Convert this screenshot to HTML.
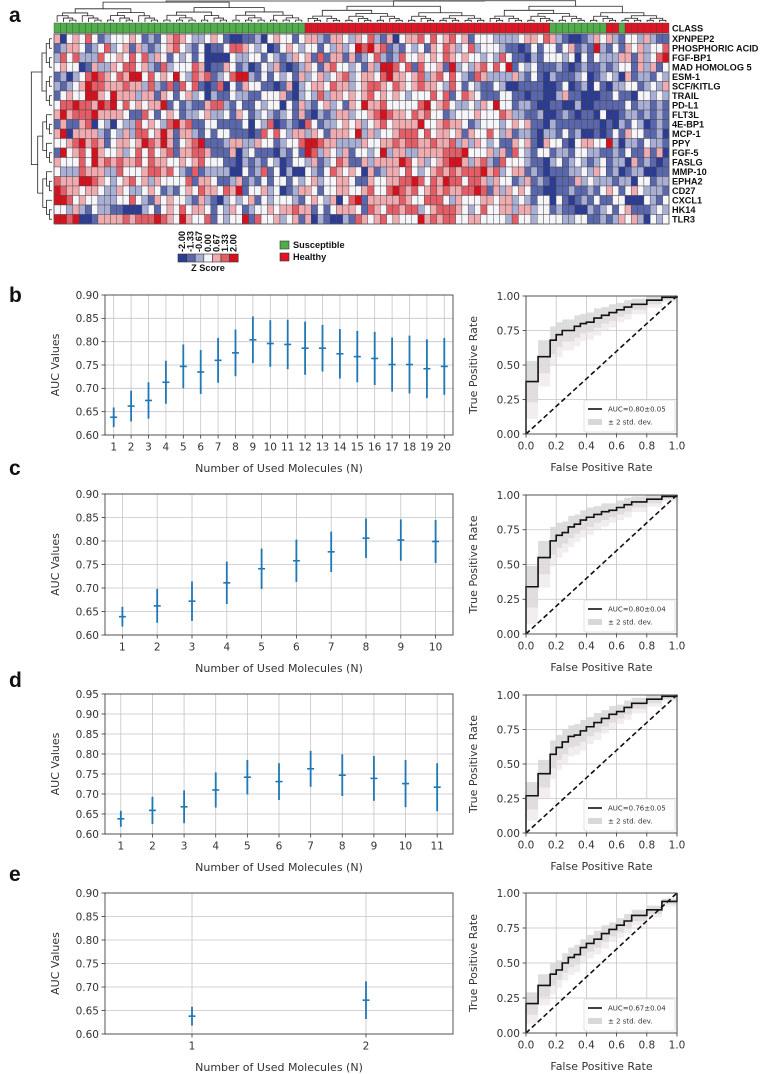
<!DOCTYPE html>
<html><head><meta charset="utf-8">
<style>
html,body{margin:0;padding:0;background:#fff;}
svg{display:block;font-family:"DejaVu Sans","Liberation Sans",sans-serif;}
.hl{font-family:"Liberation Sans",Arial,sans-serif;font-weight:bold;font-size:9.2px;fill:#111;}
.tk{font-size:10.5px;fill:#333;}
.lab{font-size:11px;fill:#333;}
.pl{font-family:"Liberation Sans",Arial,sans-serif;font-weight:bold;font-size:21px;fill:#111;}
</style></head>
<body>
<svg id="fig" width="761" height="1074" viewBox="0 0 761 1074">
<text class="pl" x="9" y="22">a</text>
<text class="pl" x="9" y="302">b</text>
<text class="pl" x="9" y="475">c</text>
<text class="pl" x="9" y="687">d</text>
<text class="pl" x="9" y="881">e</text>
<g id="heat"></g>
<g id="charts"></g>
</svg>
<script>
// ---------- heatmap data ----------
const genes = ["XPNPEP2","PHOSPHORIC ACID","FGF-BP1","MAD HOMOLOG 5","ESM-1","SCF/KITLG","TRAIL","PD-L1","FLT3L","4E-BP1","MCP-1","PPY","FGF-5","FASLG","MMP-10","EPHA2","CD27","CXCL1","HK14","TLR3"];
const classGroups = [["S",40],["H",39],["S",9],["H",2],["S",1],["H",7]];
const zLevels = ["-2.00","-1.33","-0.67","0.00","0.67","1.33","2.00"];
const heatRows = [
"4034353123 3343121345 4322343100 1120343313 4421443243 5214034453 5345341333 2222344354 2100124342 13324211",
"1244312352 3414212345 3213011355 4323013432 3313242365 6451213231 4354235233 3211013133 1341216213 14342335",
"2535222533 4353524313 2313000032 2331321243 4151441412 3521253343 4354343323 2531102133 3230313222 44142356",
"3433014224 3553421523 3354011431 2013241012 4314533231 4266535153 3416232453 5361323111 2101211212 33142413",
"1202356543 5466353436 3254512356 6213132314 2342345234 4356443452 4535321542 2224213102 1112301232 04122132",
"2123465544 4544252151 5351015031 4331101402 3443544234 5543543454 4325313211 3200111100 1301203102 23312324",
"1343366436 4442441431 3423021132 2113334102 3252443434 5343432333 5351354311 1331101100 2411000113 11033232",
"3556554656 3534344613 1211455213 1132330314 2134231436 4453333356 3453223243 6331221001 1002001111 13122121",
"4645556444 4311531343 1223422314 3123212314 1021244233 4565443545 3312333433 3542211200 1210110300 12212121",
"1411450320 3225343256 4511331111 3032501210 5312234342 3453444463 3454431233 3234341102 1111111010 21320121",
"4604444213 2425534641 4421313311 1015353244 2431444362 4233455535 3443414335 3241221022 1312001013 14331120",
"3345645413 4434654641 3456111244 2243312335 6654422224 3344545544 5445242432 3114341043 3103443362 02213221",
"1634536433 4235353451 4455411140 2311102131 6524324133 2362442244 4455563334 2415321331 2213322112 13114140",
"4333536454 5445354433 4345333110 2121320133 2412354114 2444465342 3456642452 1533321102 3123212312 20412101",
"3222544422 5333455453 2151222200 3125130200 3213543430 4124435323 4545455564 5234412101 1122324312 01220011",
"5444665432 3453424333 3514431124 1213133132 3423344311 4334455653 5465535542 4331241210 1114232221 22033122",
"6544344322 4322343121 3435443546 1334230124 4313344334 5335654534 5454455651 4243431100 1121121343 13432221",
"6653433222 3353214343 3214210232 3413233321 3432403561 4444454335 5532433344 3442321330 3101213113 30003213",
"3324213221 1000231343 5344313243 1233434454 4131344431 5435545523 4555432353 3442442331 2110021231 34111232",
"6656001444 4545556543 6433513233 6153342341 4021002154 3453433364 5455334433 3325332333 3223311212 43420323"
];
// ---------- chart data ----------
const bMeans=[0.638,0.662,0.674,0.713,0.747,0.735,0.760,0.776,0.804,0.796,0.794,0.786,0.786,0.774,0.768,0.764,0.751,0.751,0.742,0.747];
const bErr=[0.021,0.033,0.039,0.046,0.047,0.047,0.048,0.050,0.050,0.050,0.053,0.057,0.050,0.053,0.055,0.057,0.058,0.062,0.063,0.061];
const cMeans=[0.639,0.662,0.672,0.711,0.741,0.758,0.777,0.806,0.802,0.799];
const cErr=[0.021,0.036,0.042,0.045,0.043,0.045,0.043,0.042,0.044,0.046];
const dMeans=[0.638,0.659,0.668,0.710,0.742,0.731,0.763,0.747,0.739,0.726,0.717];
const dErr=[0.020,0.034,0.041,0.044,0.043,0.046,0.045,0.052,0.056,0.059,0.060];
const eMeans=[0.638,0.672];
const eErr=[0.020,0.040];
const rocFpr=[0,0.08,0.16,0.20,0.24,0.28,0.32,0.36,0.40,0.45,0.50,0.55,0.60,0.65,0.70,0.80,0.90,1.0];
const bTpr=[0.38,0.56,0.68,0.72,0.75,0.75,0.78,0.80,0.81,0.84,0.86,0.88,0.90,0.92,0.94,0.97,0.99,1.0];
const cTpr=[0.34,0.55,0.67,0.71,0.73,0.77,0.79,0.82,0.84,0.86,0.88,0.89,0.91,0.93,0.95,0.97,0.99,1.0];
const dTpr=[0.27,0.43,0.57,0.62,0.66,0.70,0.71,0.74,0.77,0.80,0.83,0.86,0.88,0.91,0.94,0.97,0.99,1.0];
const eTpr=[0.21,0.34,0.42,0.45,0.50,0.54,0.56,0.61,0.64,0.67,0.71,0.74,0.77,0.80,0.84,0.88,0.94,1.0];
const bBand=[0.15,0.12,0.10,0.09,0.08,0.08,0.08,0.07,0.07,0.07,0.06,0.06,0.05,0.05,0.04,0.03,0.02,0];
const cBand=[0.15,0.12,0.10,0.09,0.08,0.08,0.07,0.07,0.07,0.06,0.06,0.05,0.05,0.05,0.04,0.03,0.02,0];
const dBand=[0.10,0.10,0.10,0.09,0.09,0.08,0.08,0.08,0.07,0.07,0.06,0.06,0.05,0.05,0.04,0.03,0.02,0];
const eBand=[0.08,0.08,0.08,0.07,0.07,0.07,0.07,0.06,0.06,0.06,0.06,0.05,0.05,0.05,0.04,0.03,0.02,0];
const aucLabels=["AUC=0.80±0.05","AUC=0.80±0.04","AUC=0.76±0.05","AUC=0.67±0.04"];

const NS="http://www.w3.org/2000/svg";
function mk(parent,tag,attrs,text){const e=document.createElementNS(NS,tag);for(const k in attrs)e.setAttribute(k,attrs[k]);if(text!==undefined)e.textContent=text;parent.appendChild(e);return e;}

// ---------- heatmap ----------
const heat=document.getElementById('heat');
const palette=["#2c3c94","#5a67ad","#a9aed5","#f6f6fa","#f0abb1","#e45c66","#d5111e"];
const rows=heatRows.map(r=>r.replace(/ /g,''));
const ncol=Math.max(...rows.map(r=>r.length));
const HX0=54,HX1=669,HY0=34,HY1=224,CY0=23,CY1=33;
const cw=(HX1-HX0)/ncol, rh=(HY1-HY0)/genes.length;
const classes=[];classGroups.forEach(g=>{for(let i=0;i<g[1];i++)classes.push(g[0]);});
classes.forEach((c,i)=>{
  const r=mk(heat,'rect',{x:HX0+i*cw,y:CY0,width:cw,height:CY1-CY0,fill:c==='S'?'#4fae49':'#df1525',stroke:'#444','stroke-width':0.4});
  
  
});
rows.forEach((row,ri)=>{
  for(let ci=0;ci<ncol;ci++){
    const v=ci<row.length?+row[ci]:3;
    const r=mk(heat,'rect',{x:HX0+ci*cw,y:HY0+ri*rh,width:cw,height:rh,fill:palette[v],stroke:'#444','stroke-width':0.4});
    
    
  }
  const t=mk(heat,'text',{class:'hl',x:672,y:HY0+ri*rh+rh/2+3.2},genes[ri]);
  
  
});
const ct=mk(heat,'text',{class:'hl',x:672,y:31.5},'CLASS');


mk(heat,'rect',{x:HX0,y:HY0,width:HX1-HX0,height:HY1-HY0,fill:'none',stroke:'#555','stroke-width':0.8});
// dendrograms (structural drawing)
const dend=mk(heat,'g',{stroke:'#222','stroke-width':0.8,fill:'none'});


let ncolT=40;
function tree(a,b,depth,maxH,base,horiz,pos){
  if(b-a===1)return [pos(a),0];
  const m=Math.floor((a+b)/2+((depth%3)-1)*0.3*(b-a)/4);
  const mid=Math.min(Math.max(m,a+1),b-1);
  const L=tree(a,mid,depth+1,maxH,base,horiz,pos),R=tree(mid,b,depth+1,maxH,base,horiz,pos);
  const h=Math.max(L[1],R[1])+maxH*Math.pow(b-a,0.55)/Math.pow(ncolT,0.55)*0.45+1;
  if(horiz){mk(dend,'path',{d:`M${L[0]} ${base-L[1]}V${base-h}H${R[0]}V${base-R[1]}`});}
  else{mk(dend,'path',{d:`M${base-L[1]} ${L[0]}H${base-h}V${R[0]}H${base-R[1]}`});}
  return [(L[0]+R[0])/2,h];
}
const gl=tree(0,40,0,10,22,true,i=>HX0+(i+0.5)*cw);
ncolT=58;
const gr=tree(40,ncol,1,10,22,true,i=>HX0+(i+0.5)*cw);
mk(dend,'path',{d:`M${gl[0]} ${22-gl[1]}V1H${gr[0]}V${22-gr[1]}`});
ncolT=20;
tree(0,genes.length,0,12,52,false,i=>HY0+(i+0.5)*rh);
// color scale
zLevels.forEach((z,i)=>{
  const r=mk(heat,'rect',{x:178+i*8.6,y:254,width:8.6,height:8,fill:palette[i],stroke:'#333','stroke-width':0.6});
  
  
  const t=mk(heat,'text',{class:'hl','font-size':'8',x:0,y:0,transform:`translate(${178+i*8.6+7},252) rotate(-90)`},z);
  
  
});
const zt=mk(heat,'text',{class:'hl','font-size':'8',x:208,y:271,'text-anchor':'middle'},'Z Score');


[["Susceptible","#4fae49",241],["Healthy","#df1525",253]].forEach(l=>{
  const r=mk(heat,'rect',{x:280,y:l[2],width:9,height:8,fill:l[1],stroke:'#333','stroke-width':0.6});
  
  
  const t=mk(heat,'text',{class:'hl','font-size':'8',x:293,y:l[2]+7},l[0]);
  
  
});

// ---------- charts ----------
const charts=document.getElementById('charts');
function aucPanel(name,means,errs,top,bot,ymax,yticks){
  const g=mk(charts,'g',{});
  
  
  const X0=105,X1=453,n=means.length;
  const sx=v=>X0+(v-0.5)/n*(X1-X0);
  const sy=v=>bot-(v-0.60)/(ymax-0.60)*(bot-top);
  yticks.forEach(t=>{
    mk(g,'line',{x1:X0,x2:X1,y1:sy(t),y2:sy(t),stroke:'#c4c4cc','stroke-width':0.8});
    mk(g,'line',{x1:X0-3.5,x2:X0,y1:sy(t),y2:sy(t),stroke:'#333','stroke-width':0.8});
    const tl=mk(g,'text',{class:'tk',x:X0-6,y:sy(t)+3.8,'text-anchor':'end'},t.toFixed(2));
    
    
  });
  for(let i=1;i<=n;i++){
    mk(g,'line',{x1:sx(i),x2:sx(i),y1:top,y2:bot,stroke:'#c4c4c4','stroke-width':0.8});
    mk(g,'line',{x1:sx(i),x2:sx(i),y1:bot,y2:bot+3.5,stroke:'#333','stroke-width':0.8});
    const tl=mk(g,'text',{class:'tk',x:sx(i),y:bot+15.5,'text-anchor':'middle'},String(i));
    
    
  }
  means.forEach((m,i)=>{
    const x=sx(i+1);
    const e=mk(g,'line',{x1:x,x2:x,y1:sy(m-errs[i]),y2:sy(m+errs[i]),stroke:'#1f77b4','stroke-width':1.8});
    
    
    const p=mk(g,'line',{x1:x-3.5,x2:x+3.5,y1:sy(m),y2:sy(m),stroke:'#1f77b4','stroke-width':1.6});
    
    
  });
  mk(g,'rect',{x:X0,y:top,width:X1-X0,height:bot-top,fill:'none',stroke:'#444','stroke-width':0.9});
  const xl=mk(g,'text',{class:'lab',x:(X0+X1)/2,y:bot+37,'text-anchor':'middle'},'Number of Used Molecules (N)');
  
  
  const yl=mk(g,'text',{class:'lab',x:0,y:0,'text-anchor':'middle',transform:`translate(59,${(top+bot)/2}) rotate(-90)`},'AUC Values');
  
  
}
function rocPanel(name,tpr,band,top,bot,aucText){
  const g=mk(charts,'g',{});
  
  
  const X0=526,X1=677;
  const sx=v=>X0+v*(X1-X0), sy=v=>bot-v*(bot-top);
  [0,0.25,0.5,0.75,1].forEach(t=>{
    mk(g,'line',{x1:X0,x2:X1,y1:sy(t),y2:sy(t),stroke:'#c4c4c4','stroke-width':0.8});
    mk(g,'line',{x1:X0-3.5,x2:X0,y1:sy(t),y2:sy(t),stroke:'#333','stroke-width':0.8});
    const tl=mk(g,'text',{class:'tk',x:X0-6,y:sy(t)+3.8,'text-anchor':'end'},t.toFixed(2));
    
    
  });
  [0,0.2,0.4,0.6,0.8,1].forEach(t=>{
    mk(g,'line',{x1:sx(t),x2:sx(t),y1:top,y2:bot,stroke:'#c4c4c4','stroke-width':0.8});
    mk(g,'line',{x1:sx(t),x2:sx(t),y1:bot,y2:bot+3.5,stroke:'#333','stroke-width':0.8});
    const tl=mk(g,'text',{class:'tk',x:sx(t),y:bot+15.5,'text-anchor':'middle'},t.toFixed(1));
    
    
  });
  function stepPts(arr){let p=[[0,0]];arr.forEach((v,i)=>{p.push([rocFpr[i],v]);if(i<arr.length-1)p.push([rocFpr[i+1],v]);});return p;}
  const hi=stepPts(tpr.map((v,i)=>Math.min(1,v+band[i])));
  const lo=stepPts(tpr.map((v,i)=>Math.max(0,v-band[i])));
  const bd='M'+hi.map(p=>sx(p[0])+' '+sy(p[1])).join('L')+'L'+lo.reverse().map(p=>sx(p[0])+' '+sy(p[1])).join('L')+'Z';
  const b=mk(g,'path',{d:bd,fill:'#d4d4d4','fill-opacity':0.8,stroke:'none'});
  
  
  const lo2=stepPts(tpr.map((v,i)=>Math.max(0,v-band[i]*1.8)));
  const tint='M'+stepPts(tpr).map(p=>sx(p[0])+' '+sy(p[1])).join('L')+'L'+lo2.reverse().map(p=>sx(p[0])+' '+sy(p[1])).join('L')+'Z';
  const tt=mk(g,'path',{d:tint,fill:'#e6dde0','fill-opacity':0.5,stroke:'none'});
  
  
  const dl=mk(g,'line',{x1:sx(0),y1:sy(0),x2:sx(1),y2:sy(1),stroke:'#111','stroke-width':1.6,'stroke-dasharray':'5,3'});
  
  
  const ml=mk(g,'path',{d:'M'+stepPts(tpr).map(p=>sx(p[0])+' '+sy(p[1])).join('L'),fill:'none',stroke:'#111','stroke-width':1.6});
  
  
  mk(g,'rect',{x:X0,y:top,width:X1-X0,height:bot-top,fill:'none',stroke:'#444','stroke-width':0.9});
  const lg=mk(g,'g',{});
  
  
  mk(lg,'rect',{x:584,y:bot-34,width:91,height:32,fill:'#fff','fill-opacity':0.85,stroke:'#ccc','stroke-width':0.6,rx:2});
  mk(lg,'line',{x1:588,x2:602,y1:bot-25,y2:bot-25,stroke:'#111','stroke-width':1.6});
  mk(lg,'text',{x:608,y:bot-22.5,'font-size':'7px',fill:'#333'},aucText);
  mk(lg,'rect',{x:588,y:bot-15,width:14,height:6,fill:'#d8d8d8'});
  mk(lg,'text',{x:608,y:bot-9.5,'font-size':'7px',fill:'#333'},'± 2 std. dev.');
  const xl=mk(g,'text',{class:'lab',x:(X0+X1)/2,y:bot+37,'text-anchor':'middle'},'False Positive Rate');
  
  
  const yl=mk(g,'text',{class:'lab',x:0,y:0,'text-anchor':'middle',transform:`translate(477,${(top+bot)/2}) rotate(-90)`},'True Positive Rate');
  
  
}
const t6=[0.60,0.65,0.70,0.75,0.80,0.85,0.90];
aucPanel('b',bMeans,bErr,295,435,0.90,t6);
aucPanel('c',cMeans,cErr,494,635,0.90,t6);
aucPanel('d',dMeans,dErr,694,834,0.95,[0.60,0.65,0.70,0.75,0.80,0.85,0.90,0.95]);
aucPanel('e',eMeans,eErr,893,1034,0.90,t6);
rocPanel('b',bTpr,bBand,296,434,aucLabels[0]);
rocPanel('c',cTpr,cBand,495,634,aucLabels[1]);
rocPanel('d',dTpr,dBand,695,833,aucLabels[2]);
rocPanel('e',eTpr,eBand,893,1033,aucLabels[3]);
</script>
</body></html>
